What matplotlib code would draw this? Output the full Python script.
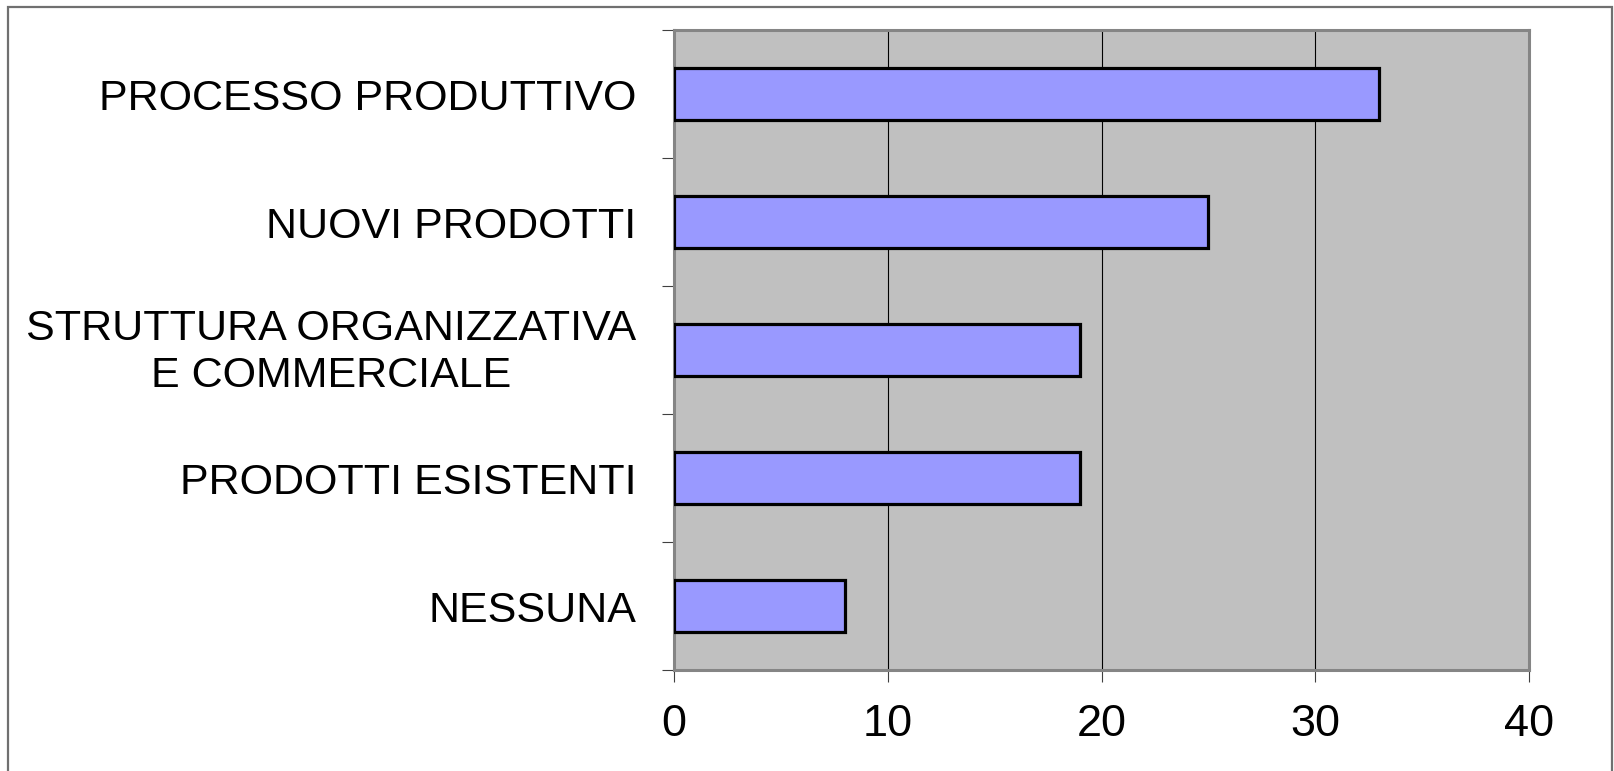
import matplotlib
matplotlib.use("Agg")
import matplotlib.pyplot as plt
from matplotlib.patches import Rectangle
import matplotlib.transforms as mtransforms
import numpy as np

categories = ["PROCESSO PRODUTTIVO", "NUOVI PRODOTTI",
              "STRUTTURA ORGANIZZATIVA\nE COMMERCIALE",
              "PRODOTTI ESISTENTI", "NESSUNA"]
values = [33, 25, 19, 19, 8]
xticks = [0, 10, 20, 30, 40]

plt.rcParams['font.family'] = ['Liberation Sans', 'DejaVu Sans']

W, H = 1614, 771
fig = plt.figure(figsize=(W / 100, H / 100), dpi=100)
fig.patch.set_facecolor('white')

# outer frame
fig.add_artist(Rectangle((8 / W, -0.05), (1612 - 8) / W, 1.05 - 7 / H,
                         transform=fig.transFigure, fill=False,
                         edgecolor='#707070', linewidth=1.6))

left, right, top, bottom = 674, 1529, 30, 670
ax = fig.add_axes([left / W, 1 - bottom / H, (right - left) / W, (bottom - top) / H])
ax.set_facecolor('#C0C0C0')

n = len(categories)
ypos = np.arange(n)
ax.barh(ypos, values, height=0.4, color='#9999FF', edgecolor='black',
        linewidth=2.3, zorder=3)

ax.set_xlim(0, 40)
ax.set_ylim(n - 0.5, -0.5)
ax.set_xticks(xticks)
ax.set_xticklabels([str(v) for v in xticks], fontsize=32.5)
ax.tick_params(axis='x', direction='out', length=8.6, width=0.8,
               color='#404040', pad=16)

ax.set_yticks(np.arange(-0.5, n, 1.0))
ax.set_yticklabels([])
ax.tick_params(axis='y', which='major', direction='out', length=8.6,
               width=0.8, color='#404040')
ax.set_yticks(ypos, minor=True)
labels = ax.set_yticklabels(categories, minor=True, fontsize=31, ha='right',
                            multialignment='center', linespacing=1.22)
ax.tick_params(axis='y', which='minor', length=0, pad=27)
for lab in labels:
    if '\n' in lab.get_text():
        lab.set_transform(lab.get_transform() +
                          mtransforms.ScaledTranslation(0, 5 / 100, fig.dpi_scale_trans))

for v in xticks[1:-1]:
    ax.axvline(v, color='black', linewidth=0.8, zorder=1)

for s in ax.spines.values():
    s.set_color('#858585')
    s.set_linewidth(2.2)

fig.savefig('out.png', dpi=100, facecolor='white')
